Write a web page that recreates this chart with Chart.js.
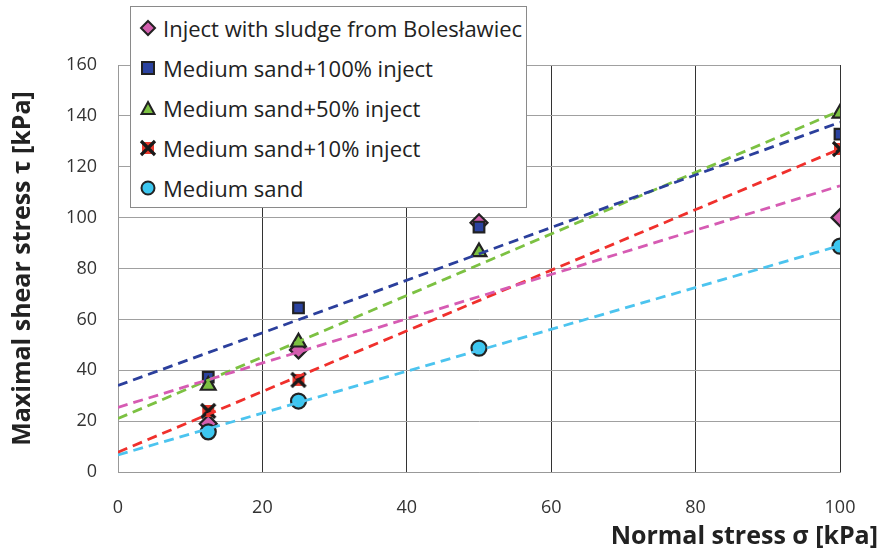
<!DOCTYPE html>
<html>
<head>
<meta charset="utf-8">
<script src="https://cdn.jsdelivr.net/npm/chart.js@4.4.0/dist/chart.umd.min.js"></script>
<style>
  body { margin: 0; background: #fff; }
  #wrap { position: relative; width: 882px; height: 550px; font-family: "Open Sans", sans-serif; }
  #legend { position: absolute; left: 130px; top: 6px; width: 397px; height: 202px; background: #fff;
            border: 1px solid #8a8a8a; box-sizing: border-box; }
  .item { position: absolute; left: 8px; height: 26px; display: flex; align-items: center;
          font-size: 22px; color: #222; white-space: nowrap; }
  .item svg { width: 18px; height: 18px; margin-right: 6px; }
  #xtitle { position: absolute; right: 4px; top: 519px; font-weight: bold; font-size: 25px; color: #222; line-height: 1.2; }
</style>
</head>
<body>
<div id="wrap">
  <canvas id="chart" width="882" height="550"></canvas>
  <div id="legend"></div>
  <div id="xtitle">Normal stress σ [kPa]</div>
</div>
<script>
// valores (kPa)
const normalStress = [12.5, 25, 50, 100]
const injectBoles = [19, 48, 98, 100]
const sand100 = [37.3, 64.5, 96.3, 132.8]
const sand50 = [34, 51, 86.5, 141]
const stress10 = [12.5, 25, 100]
const sand10 = [24, 36.2, 127]
const sandOnly = [15.8, 27.9, 48.7, 88.8]

// líneas de tendencia: valor en 0 y en 100 kPa
const trendX = [0, 100]
const trendBoles = [25.4, 112.5]
const trend100 = [34, 137.5]
const trend50 = [21, 142]
const trend10 = [7.8, 127]
const trendSand = [6.7, 89]

const labels = ['Inject with sludge from Bolesławiec', 'Medium sand+100% inject', 'Medium sand+50% inject', 'Medium sand+10% inject', 'Medium sand']
const colores = ['#d35fae', '#2b43a0', '#7cc142', '#ea3a2e', '#3cc7f0']
const lineColores = ['#d65bb3', '#2b3f9c', '#7cc142', '#f0302c', '#4cc4ef']

const pts = (xs, ys) => xs.map((x, i) => ({ x: x, y: ys[i] }))

// marcador X rojo con cruz negra
const xMark = document.createElement('canvas')
xMark.width = 18; xMark.height = 18
const g = xMark.getContext('2d')
g.fillStyle = colores[3]
g.fillRect(3, 3, 12, 12)
g.strokeStyle = '#1a1a1a'; g.lineWidth = 3.2
g.beginPath(); g.moveTo(2, 2); g.lineTo(16, 16); g.moveTo(16, 2); g.lineTo(2, 16); g.stroke()

// en el original las líneas quedan por encima de los marcadores
const marcador = (data, i, style, radius, order) => ({
  label: labels[i], data: data, showLine: false, order: order,
  pointStyle: style, pointRadius: radius, pointHoverRadius: radius,
  backgroundColor: colores[i], borderColor: '#222', pointBorderWidth: 2.2
})
const tendencia = (data, i) => ({
  data: data, showLine: true, pointRadius: 0, order: i,
  borderColor: lineColores[i], borderWidth: 2.8, borderDash: [10, 6], fill: false
})

new Chart(document.getElementById('chart'), {
  type: 'scatter',
  data: {
    datasets: [
      tendencia(pts(trendX, trendBoles), 0),
      tendencia(pts(trendX, trend100), 1),
      tendencia(pts(trendX, trend50), 2),
      tendencia(pts(trendX, trend10), 3),
      tendencia(pts(trendX, trendSand), 4),
      marcador(pts(normalStress, injectBoles), 0, 'rectRot', 8.5, 15),
      marcador(pts(normalStress, sand100), 1, 'rect', 7.5, 14),
      marcador(pts(normalStress, sand50), 2, 'triangle', 8.5, 13),
      marcador(pts(stress10, sand10), 3, xMark, 9, 12),
      marcador(pts(normalStress, sandOnly), 4, 'circle', 7.5, 11)
    ]
  },
  options: {
    responsive: false,
    animation: false,
    layout: { padding: { top: 65, right: 42, bottom: 0, left: 0 } },
    plugins: { legend: { display: false }, tooltip: { enabled: false } },
    scales: {
      x: {
        type: 'linear', min: 0, max: 100,
        ticks: { stepSize: 20, padding: 25, color: '#333', font: { family: 'Open Sans', size: 18 } },
        grid: { color: (c) => c.tick.value === 0 ? '#999' : '#333', drawTicks: false },
        border: { color: '#999' },
        afterFit: (s) => { s.height = 78 }
      },
      y: {
        min: 0, max: 160,
        ticks: { stepSize: 20, padding: 21, color: '#333', font: { family: 'Open Sans', size: 18 } },
        grid: { color: '#a0a0a0', drawTicks: false },
        border: { color: '#999' },
        title: { display: true, text: 'Maximal shear stress τ [kPa]', color: '#222',
                 font: { family: 'Open Sans', size: 25, weight: 'bold' }, padding: { top: 8, bottom: 0 } },
        afterFit: (s) => { s.width = 118 }
      }
    }
  }
})

// leyenda en HTML
const simbolos = [
  '<svg viewBox="0 0 18 18"><path d="M9 2 L16 9 L9 16 L2 9 Z" fill="' + colores[0] + '" stroke="#222" stroke-width="2"/></svg>',
  '<svg viewBox="0 0 18 18"><rect x="3" y="3" width="12" height="12" fill="' + colores[1] + '" stroke="#222" stroke-width="2"/></svg>',
  '<svg viewBox="0 0 18 18"><path d="M9 3 L15.5 15 L2.5 15 Z" fill="' + colores[2] + '" stroke="#222" stroke-width="2"/></svg>',
  '<svg viewBox="0 0 18 18"><rect x="3" y="3" width="12" height="12" fill="' + colores[3] + '"/><path d="M2 2 L16 16 M16 2 L2 16" stroke="#1a1a1a" stroke-width="3.2"/></svg>',
  '<svg viewBox="0 0 18 18"><circle cx="9" cy="9" r="6.5" fill="' + colores[4] + '" stroke="#222" stroke-width="2"/></svg>'
]
const legendTops = [8, 48, 88, 128, 168]
let html = ''
labels.forEach((l, i) => {
  html += `<div class="item" style="top:${legendTops[i]}px">${simbolos[i]}<span>${l}</span></div>`
})
document.getElementById('legend').innerHTML = html
</script>
</body>
</html>
